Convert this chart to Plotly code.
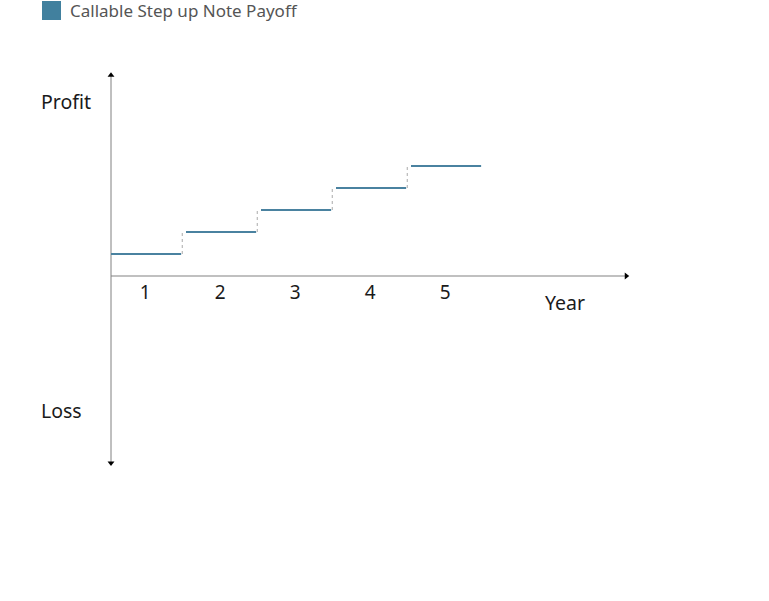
import plotly.graph_objects as go

# ---- data ----
years = [1, 2, 3, 4, 5]
payoff = [1, 2, 3, 4, 5]          # coupon level stepping up each year
series_name = "Callable Step up Note Payoff"
y_label_top = "Profit"
y_label_bottom = "Loss"
x_label = "Year"

LINE_COLOR = "#4a82a0"
FONT = "Noto Sans, Open Sans, sans-serif"

fig = go.Figure()

# step segments: each year from (year-1) to (year-0.065)
seg_x, seg_y = [], []
for yr, v in zip(years, payoff):
    seg_x += [yr - 1, yr - 0.065, None]
    seg_y += [v, v, None]
fig.add_trace(go.Scatter(x=seg_x, y=seg_y, mode="lines",
                         line=dict(color=LINE_COLOR, width=2),
                         showlegend=False, hoverinfo="skip"))

# dotted connectors between steps
dx, dy = [], []
for i in range(len(years) - 1):
    xc = years[i] - 0.05
    dx += [xc, xc, None]
    dy += [payoff[i], payoff[i + 1], None]
fig.add_trace(go.Scatter(x=dx, y=dy, mode="lines",
                         line=dict(color="#aaaaaa", width=1, dash="dot"),
                         showlegend=False, hoverinfo="skip"))

# year labels
fig.add_trace(go.Scatter(x=[y - 0.545 for y in years], y=[-0.82] * len(years),
                         mode="text", text=[str(y) for y in years],
                         textfont=dict(family=FONT, size=19, color="#1a1a1a"),
                         showlegend=False, hoverinfo="skip"))

# axes (drawn as shapes)
X0, X1 = 0, 6.87
Y0, Y1 = -8.5, 9.13
fig.add_shape(type="line", x0=X0, x1=X1, y0=0, y1=0,
              line=dict(color="#c0c0c0", width=2), layer="below")
fig.add_shape(type="line", x0=0, x1=0, y0=Y0, y1=Y1,
              line=dict(color="#808080", width=1), layer="below")
# arrow heads
fig.add_trace(go.Scatter(x=[0, 0, X1], y=[Y1, Y0, 0], mode="markers",
                         marker=dict(symbol=["triangle-up", "triangle-down", "triangle-right"],
                                     size=6, color="#000000"),
                         showlegend=False, hoverinfo="skip"))

ann = [
    dict(x=-0.96, y=7.95, text=y_label_top, xanchor="left", yanchor="middle"),
    dict(x=-0.96, y=-6.13, text=y_label_bottom, xanchor="left", yanchor="middle"),
    dict(x=5.76, y=-1.2, text=x_label, xanchor="left", yanchor="middle"),
]
annotations = [dict(a, xref="x", yref="y", showarrow=False,
                    font=dict(family=FONT, size=19.5, color="#1a1a1a")) for a in ann]
# legend text
annotations.append(dict(x=68 / 769, y=1 - 10.5 / 601, xref="paper", yref="paper",
                        text=series_name, showarrow=False,
                        xanchor="left", yanchor="middle",
                        font=dict(family=FONT, size=17, color="#555555")))

fig.update_layout(
    width=769, height=601,
    margin=dict(l=0, r=0, t=0, b=0),
    paper_bgcolor="white", plot_bgcolor="white",
    xaxis=dict(range=[-111 / 75, (769 - 111) / 75], visible=False, fixedrange=True),
    yaxis=dict(range=[(276 - 601) / 22, 276 / 22], visible=False, fixedrange=True),
    annotations=annotations,
    showlegend=False,
)
# legend swatch
fig.add_shape(type="rect", xref="paper", yref="paper",
              x0=42 / 769, x1=61 / 769, y0=1 - 20 / 601, y1=1 - 1 / 601,
              fillcolor="#41809e", line=dict(width=0))

fig.write_html("out.html", config={"displayModeBar": False},
               post_script="document.body.style.margin='0';document.body.style.overflow='hidden';")
